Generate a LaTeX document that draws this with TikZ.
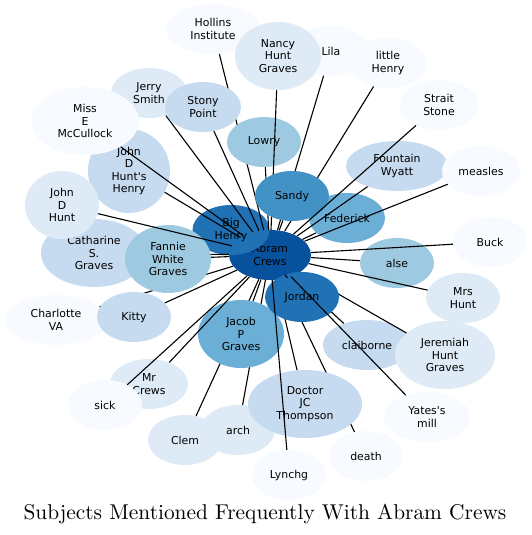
\documentclass[tikz,border=0pt]{standalone}
\usepackage{fontspec}
\newfontfamily\nodefont{DejaVu Sans}
\newfontfamily\titlefont{lmroman10-regular}[Extension=.otf]
\usetikzlibrary{shapes.geometric}
\definecolor{b1}{HTML}{F7FBFF}
\definecolor{b2}{HTML}{DEEBF7}
\definecolor{b3}{HTML}{C6DBEF}
\definecolor{b4}{HTML}{9ECAE1}
\definecolor{b5}{HTML}{6BAED6}
\definecolor{b6}{HTML}{4292C6}
\definecolor{b7}{HTML}{2171B5}
\definecolor{b8}{HTML}{08519C}
\tikzset{
  ent/.style={ellipse, inner sep=0pt, align=center, text=black,
    font=\nodefont\fontsize{10.9}{12.3}\selectfont},
  sm/.style={minimum width=74pt, minimum height=50pt},
  tall/.style={minimum height=68pt},
  link/.style={draw=black, line width=1.1pt},
}
\begin{document}
\begin{tikzpicture}[x=1pt,y=-1pt]
\useasboundingbox (0,0) rectangle (532,535);
% hub
\node[ent, fill=b8, minimum width=82pt, minimum height=50pt] (abram) at (270,255) {Abram\\Crews};
\node[ent, fill=b7, minimum width=77pt, minimum height=50pt] (bighenry) at (231,230) {Big\\Henry};
% left group
\node[ent, fill=b3, tall, minimum width=106pt] (catharine) at (94,253) {Catharine\\S.\\Graves};
\draw[link] (abram) -- (catharine);
\node[ent, fill=b1, minimum width=102pt, minimum height=50pt] (charlotte) at (56,320) {Charlotte\\VA};
\draw[link] (abram) -- (charlotte);
\node[ent, fill=b3, minimum width=82pt, minimum height=84pt] (jdhhenry) at (129,171) {John\\D\\Hunt's\\Henry};
\node[ent, fill=b2, minimum width=76pt, minimum height=50pt] (jerry) at (149,93) {Jerry\\Smith};
\node[ent, fill=b1, tall, minimum width=108pt] (mccullock) at (85,121) {Miss\\E\\McCullock};
\node[ent, fill=b2, tall, minimum width=74pt] (jdhunt) at (62,205) {John\\D\\Hunt};
\node[ent, fill=b4, tall, minimum width=86pt] (fannie) at (168,259) {Fannie\\White\\Graves};
\node[ent, fill=b3, sm] (kitty) at (134,317) {Kitty};
\draw[link] (abram) -- (fannie);
\draw[link] (abram) -- (kitty);
\draw[link] (abram) -- (jdhunt);
\draw[link] (abram) -- (jdhhenry);
\draw[link] (abram) -- (mccullock);
\draw[link] (abram) -- (jerry);
% top group
\node[ent, fill=b1, minimum width=94pt, minimum height=50pt] (hollins) at (213,29) {Hollins\\Institute};
\draw[link] (abram) -- (hollins);
\node[ent, fill=b3, minimum width=76pt, minimum height=50pt] (stony) at (203,107) {Stony\\Point};
\draw[link] (abram) -- (stony);
\node[ent, fill=b1, sm] (lila) at (331,51) {Lila};
\node[ent, fill=b2, tall, minimum width=86pt] (nancy) at (278,56) {Nancy\\Hunt\\Graves};
\node[ent, fill=b1, minimum width=78pt, minimum height=50pt] (littlehenry) at (388,63) {little\\Henry};
\node[ent, fill=b4, sm] (lowry) at (264,142) {Lowry};
\draw[link] (abram) -- (lowry);
\draw[link] (abram) -- (nancy);
\draw[link] (abram) -- (lila);
\draw[link] (abram) -- (littlehenry);
\node[ent, fill=b5, minimum width=76pt, minimum height=50pt] (federick) at (347,218) {Federick};
\node[ent, fill=b6, sm] (sandy) at (292,196) {Sandy};
\draw[link] (abram) -- (sandy);
% right group
\node[ent, fill=b3, minimum width=102pt, minimum height=50pt] (fountain) at (397,166) {Fountain\\Wyatt};
\node[ent, fill=b1, minimum width=78pt, minimum height=50pt] (measles) at (481,171) {measles};
\node[ent, fill=b1, minimum width=78pt, minimum height=50pt] (strait) at (439,105) {Strait\\Stone};
\draw[link] (abram) -- (strait);
\draw[link] (abram) -- (fountain);
\draw[link] (abram) -- (measles);
\draw[link] (abram) -- (federick);
\node[ent, fill=b4, sm] (alse) at (397,263) {alse};
\draw[link] (abram) -- (alse);
\node[ent, fill=b1, sm] (buck) at (490,242) {Buck};
\draw[link] (abram) -- (buck);
\node[ent, fill=b2, sm] (mrshunt) at (463,298) {Mrs\\Hunt};
\draw[link] (abram) -- (mrshunt);
% bottom group
\node[ent, fill=b3, minimum width=88pt, minimum height=50pt] (claiborne) at (367,345) {claiborne};
\node[ent, fill=b2, tall, minimum width=100pt] (jeremiah) at (445,355) {Jeremiah\\Hunt\\Graves};
\draw[link] (abram) -- (claiborne);
\draw[link] (abram) -- (jeremiah);
\node[ent, fill=b2, sm] (clem) at (185,440) {Clem};
\node[ent, fill=b2, sm] (arch) at (238,430) {arch};
\draw[link] (abram) -- (clem);
\draw[link] (abram) -- (arch);
\node[ent, fill=b1, sm] (death) at (366,456) {death};
\draw[link] (abram) -- (death);
\node[ent, fill=b3, tall, minimum width=114pt] (thompson) at (305,404) {Doctor\\JC\\Thompson};
\draw[link] (abram) -- (thompson);
\node[ent, fill=b5, tall, minimum width=86pt] (jacob) at (241,334) {Jacob\\P\\Graves};
\draw[link] (abram) -- (jacob);
\node[ent, fill=b7, sm] (jordan) at (302,297) {Jordan};
\draw[link] (abram) -- (jordan);
\node[ent, fill=b1, minimum width=86pt, minimum height=50pt] (yates) at (427,417) {Yates's\\mill};
\draw[link] (abram) -- (yates);
\node[ent, fill=b1, sm] (lynchg) at (289,475) {Lynchg};
\draw[link] (abram) -- (lynchg);
\node[ent, fill=b2, minimum width=78pt, minimum height=50pt] (mrcrews) at (149,384) {Mr\\Crews};
\draw[link] (abram) -- (mrcrews);
\node[ent, fill=b1, sm] (sick) at (105,405) {sick};
\draw[link] (abram) -- (sick);
% title
\node[anchor=base, font=\titlefont\fontsize{21.4}{25}\selectfont, inner sep=0pt] (title) at (265,519) {Subjects Mentioned Frequently With Abram Crews};
\end{tikzpicture}
\end{document}
